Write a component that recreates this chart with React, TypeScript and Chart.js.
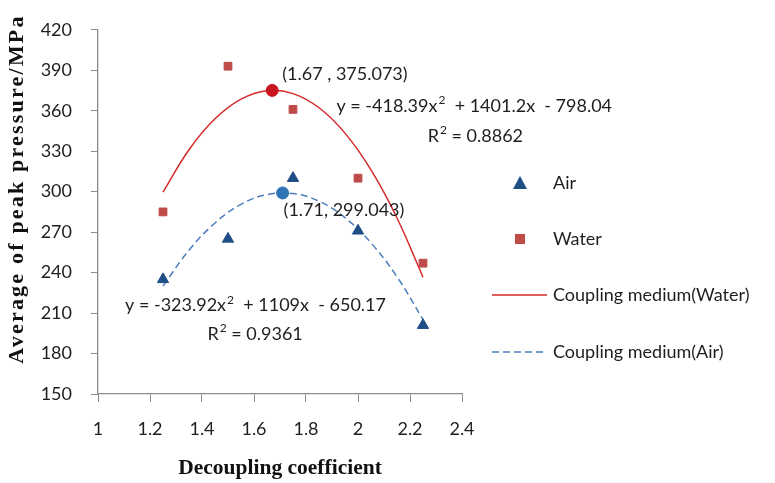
import React, { useEffect, useRef } from "react";
import { Chart, registerables } from "chart.js";

Chart.register(...registerables);

// ---- data ----
const pointX = [1.25, 1.5, 1.75, 2.0, 2.25];
const airY = [235, 265, 310, 271, 201];
const waterY = [285, 393, 361, 310, 247];

const fitX = [1.25, 1.35, 1.45, 1.55, 1.65, 1.75, 1.85, 1.95, 2.05, 2.15, 2.25];
const waterFitY = [299.7, 331.1, 354.0, 368.6, 374.9, 372.7, 362.2, 343.4, 316.1, 280.5, 236.6];
const airFitY = [230.0, 256.6, 276.8, 290.6, 297.8, 298.6, 292.9, 280.7, 262.0, 236.9, 205.2];

const waterPeak = [1.67, 375.073];
const airPeak = [1.71, 299.043];

const xMin = 1, xMax = 2.4, xStep = 0.2;
const yMin = 150, yMax = 420, yStep = 30;

const legendLabels = ["Air", "Water", "Coupling medium(Water)", "Coupling medium(Air)"];
const waterPeakLabel = "(1.67 , 375.073)";
const airPeakLabel = "(1.71, 299.043)";
const waterEq = ["y = -418.39x", "2", "  + 1401.2x  - 798.04"];
const waterR2 = ["R", "2", " = 0.8862"];
const airEq = ["y = -323.92x", "2", "  + 1109x  - 650.17"];
const airR2 = ["R", "2", " = 0.9361"];
const xTitle = "Decoupling coefficient";
const yTitle = "Average of peak pressure/MPa";

// ---- styles ----
const TRI = "#1F4E86";
const SQ = "#BE4B48";
const REDLINE = "#D42A2A";
const BLUELINE = "#4A7EBD";
const REDPEAK = "#C8161E";
const BLUEPEAK = "#2E75B6";
const AXIS = "#8C8C8C";
const TEXT = "#1E1E1E";
const SANS = "Lato, 'Open Sans', sans-serif";
const SERIF = "'Liberation Serif', 'DejaVu Serif', serif";

function drawSup(ctx: CanvasRenderingContext2D, parts: string[], x: number, y: number) {
  ctx.textBaseline = "middle";
  ctx.textAlign = "left";
  ctx.font = `18px ${SANS}`;
  ctx.fillText(parts[0], x, y);
  let cx = x + ctx.measureText(parts[0]).width;
  ctx.font = `12px ${SANS}`;
  ctx.fillText(parts[1], cx + 1, y - 6);
  cx += ctx.measureText(parts[1]).width + 1;
  ctx.font = `18px ${SANS}`;
  ctx.fillText(parts[2], cx, y);
}

const overlay = {
  id: "overlay",
  afterDraw(chart: any) {
    const ctx: CanvasRenderingContext2D = chart.ctx;
    const xs = chart.scales.x;
    const ys = chart.scales.y;
    ctx.save();
    ctx.fillStyle = TEXT;

    // peak labels
    ctx.font = `18px ${SANS}`;
    ctx.textBaseline = "middle";
    ctx.textAlign = "left";
    const wpx = xs.getPixelForValue(waterPeak[0]);
    const wpy = ys.getPixelForValue(waterPeak[1]);
    ctx.fillText(waterPeakLabel, wpx + 10, wpy - 16);
    const apx = xs.getPixelForValue(airPeak[0]);
    const apy = ys.getPixelForValue(airPeak[1]);
    ctx.fillText(airPeakLabel, apx + 1, apy + 17);

    // equations
    drawSup(ctx, waterEq, xs.getPixelForValue(1.917), ys.getPixelForValue(363.6));
    drawSup(ctx, waterR2, xs.getPixelForValue(2.268), ys.getPixelForValue(340.9));
    drawSup(ctx, airEq, xs.getPixelForValue(1.104), ys.getPixelForValue(215.5));
    drawSup(ctx, airR2, xs.getPixelForValue(1.421), ys.getPixelForValue(194.2));

    // legend
    const lx = 520, tx = 553;
    const rows = [183, 239, 295, 352];
    ctx.font = `18px ${SANS}`;
    ctx.textBaseline = "middle";
    legendLabels.forEach((t, i) => ctx.fillText(t, tx, rows[i]));
    // triangle
    ctx.fillStyle = TRI;
    ctx.beginPath();
    ctx.moveTo(lx, rows[0] - 7);
    ctx.lineTo(lx + 7, rows[0] + 6);
    ctx.lineTo(lx - 7, rows[0] + 6);
    ctx.closePath();
    ctx.fill();
    // square
    ctx.fillStyle = SQ;
    ctx.fillRect(lx - 5, rows[1] - 5, 10, 10);
    // lines
    ctx.lineWidth = 1.5;
    ctx.strokeStyle = REDLINE;
    ctx.beginPath();
    ctx.moveTo(492, rows[2]);
    ctx.lineTo(547, rows[2]);
    ctx.stroke();
    ctx.strokeStyle = BLUELINE;
    ctx.setLineDash([7, 4]);
    ctx.beginPath();
    ctx.moveTo(492, rows[3]);
    ctx.lineTo(547, rows[3]);
    ctx.stroke();
    ctx.setLineDash([]);

    // axis titles
    ctx.fillStyle = "#111";
    ctx.font = `bold 21.5px ${SERIF}`;
    ctx.textAlign = "center";
    ctx.textBaseline = "middle";
    ctx.fillText(xTitle, (chart.chartArea.left + chart.chartArea.right) / 2, 468);
    ctx.save();
    ctx.translate(17, 189);
    ctx.rotate(-Math.PI / 2);
    ctx.font = `bold 22px ${SERIF}`;
    (ctx as any).letterSpacing = "2.2px";
    ctx.fillText(yTitle, 0, 0);
    ctx.restore();

    ctx.restore();
  },
};

export default function App() {
  const ref = useRef<HTMLCanvasElement>(null);
  useEffect(() => {
    if (!ref.current) return;
    const chart = new Chart(ref.current, {
      type: "scatter",
      data: {
        datasets: [
          {
            label: "Water peak",
            data: [{ x: waterPeak[0], y: waterPeak[1] }],
            pointStyle: "circle",
            pointRadius: 6,
            backgroundColor: REDPEAK,
            borderColor: REDPEAK,
            order: 0,
          },
          {
            label: "Air peak",
            data: [{ x: airPeak[0], y: airPeak[1] }],
            pointStyle: "circle",
            pointRadius: 6,
            backgroundColor: BLUEPEAK,
            borderColor: BLUEPEAK,
            order: 0,
          },
          {
            label: "Air",
            data: pointX.map((x, i) => ({ x, y: airY[i] })),
            pointStyle: "triangle",
            pointRadius: 6.5,
            backgroundColor: TRI,
            borderColor: TRI,
            order: 1,
          },
          {
            label: "Water",
            data: pointX.map((x, i) => ({ x, y: waterY[i] })),
            pointStyle: "rect",
            pointRadius: 5.5,
            backgroundColor: SQ,
            borderColor: SQ,
            order: 1,
          },
          {
            label: "Coupling medium(Water)",
            data: fitX.map((x, i) => ({ x, y: waterFitY[i] })),
            showLine: true,
            tension: 0.4,
            pointRadius: 0,
            borderColor: REDLINE,
            borderWidth: 1.5,
            order: 2,
          } as any,
          {
            label: "Coupling medium(Air)",
            data: fitX.map((x, i) => ({ x, y: airFitY[i] })),
            showLine: true,
            tension: 0.4,
            pointRadius: 0,
            borderColor: BLUELINE,
            borderWidth: 1.5,
            borderDash: [7, 4],
            order: 2,
          } as any,
        ],
      },
      options: {
        animation: false,
        responsive: true,
        maintainAspectRatio: false,
        layout: { padding: { left: 0, right: 313, top: 13, bottom: 0 } },
        plugins: { legend: { display: false }, tooltip: { enabled: false } },
        scales: {
          x: {
            type: "linear",
            min: xMin,
            max: xMax,
            afterFit: (s: any) => { s.height = 89; },
            ticks: {
              stepSize: xStep,
              padding: 16,
              color: TEXT,
              font: { family: SANS, size: 18 },
              callback: (v: any) => String(Number(Number(v).toFixed(1))),
            },
            grid: { display: true, drawOnChartArea: false, drawTicks: true, tickLength: 8, color: AXIS },
            border: { display: true, color: AXIS, width: 1.3 },
          },
          y: {
            type: "linear",
            min: yMin,
            max: yMax,
            afterFit: (s: any) => { s.width = 98; },
            ticks: {
              stepSize: yStep,
              padding: 19,
              color: TEXT,
              font: { family: SANS, size: 18 },
            },
            grid: { display: true, drawOnChartArea: false, drawTicks: true, tickLength: 7, color: AXIS },
            border: { display: true, color: AXIS, width: 1.3 },
          },
        },
      },
      plugins: [overlay],
    });
    return () => chart.destroy();
  }, []);
  return (
    <div style={{ position: "absolute", left: 0, top: 0, width: 775, height: 483, background: "#fff" }}>
      <canvas ref={ref} />
    </div>
  );
}
